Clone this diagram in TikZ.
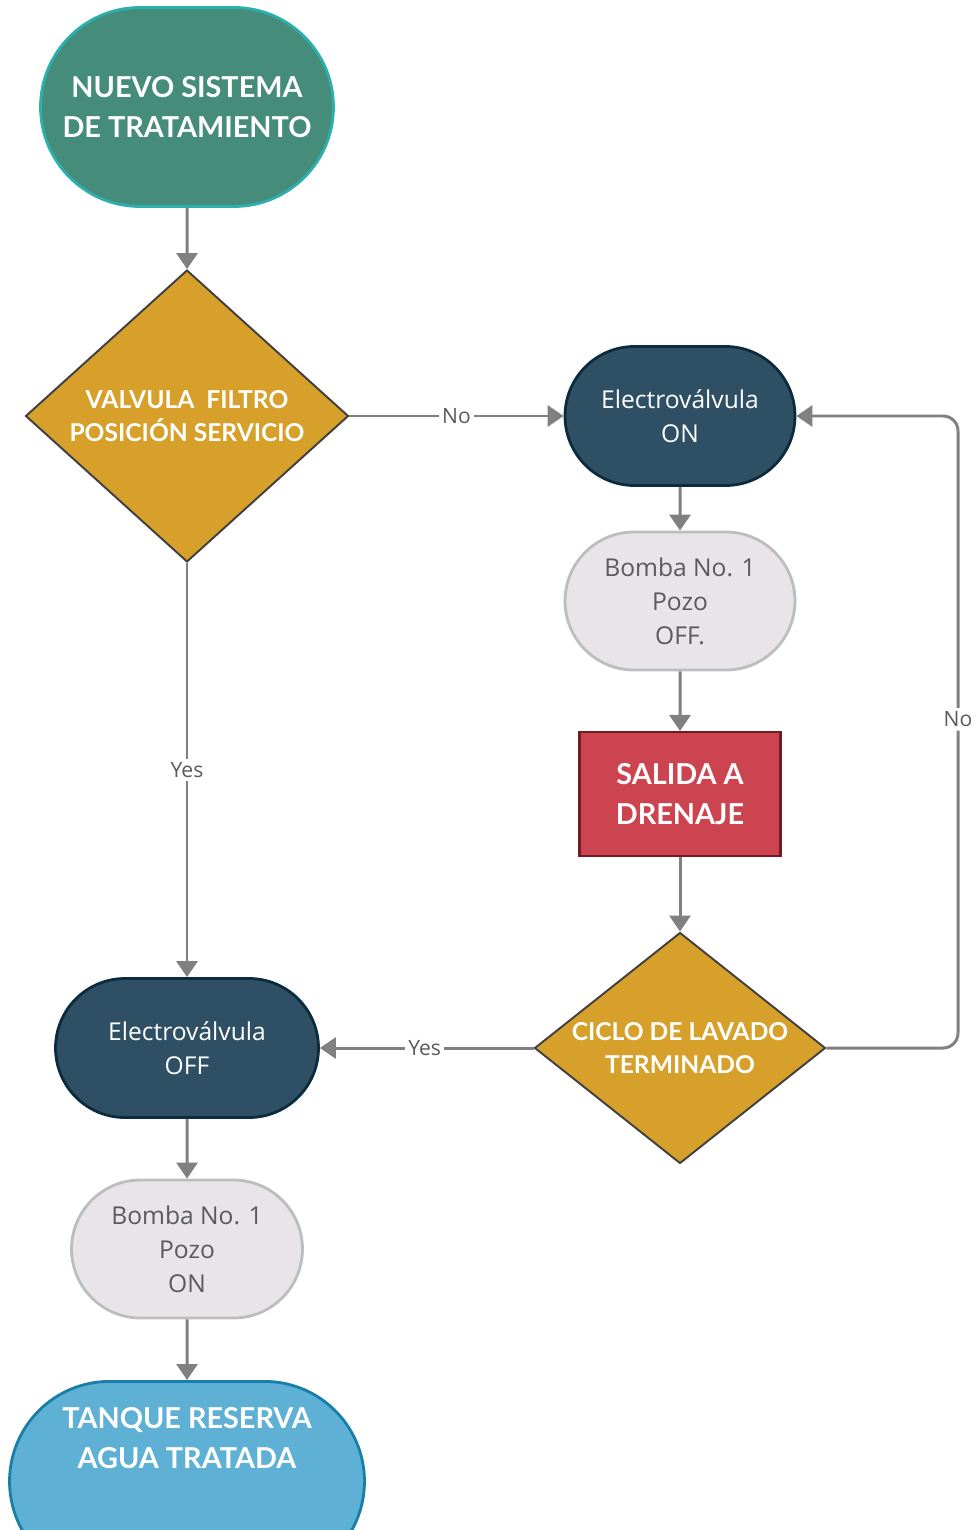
\documentclass[tikz,border=0pt]{standalone}
\usepackage{fontspec}
\setmainfont{Open Sans}
\newfontfamily\latofont{Lato}
\usetikzlibrary{shapes.geometric,shapes.misc,arrows.meta}

\definecolor{verdeini}{HTML}{458C7A}
\definecolor{verdeborde}{HTML}{2CB0AE}
\definecolor{ocre}{HTML}{D6A02A}
\definecolor{azulosc}{HTML}{2F5064}
\definecolor{azulborde}{HTML}{0D2B3E}
\definecolor{grisclaro}{HTML}{E8E4E8}
\definecolor{grisborde}{HTML}{BDBDBD}
\definecolor{gristexto}{HTML}{5A5A5A}
\definecolor{rojo}{HTML}{CC4450}
\definecolor{rojoborde}{HTML}{751A22}
\definecolor{celeste}{HTML}{5EB0D5}
\definecolor{celesteborde}{HTML}{1A7FA6}
\definecolor{flecha}{HTML}{808080}

\begin{document}
\begin{tikzpicture}[
    % 1 unidad = 1 pixel de la imagen original
    x=0.02cm, y=-0.02cm,
    % Textos
    titulo/.style={font=\latofont\bfseries\fontsize{16.4}{22.8}\selectfont, text=white, align=center},
    normal/.style={font=\fontsize{14}{19.4}\selectfont, align=center},
    % Formas
    terminal/.style={rounded rectangle, draw, line width=1.6pt, inner sep=0pt},
    decision/.style={diamond, draw=black!75, line width=1.1pt, fill=ocre, inner sep=-12pt,
        font=\latofont\bfseries\fontsize{14}{18.8}\selectfont, text=white, align=center},
    % Conectores y etiquetas
    conn/.style={draw=flecha, line width=1.7pt, -{Triangle[length=0.32cm,width=0.42cm]}},
    lbl/.style={fill=white, text=gristexto, inner sep=2pt, font=\fontsize{12}{14}\selectfont}
]
    \useasboundingbox (0,0) rectangle (976,1530);
    \clip (0,0) rectangle (976,1530);

    % Inicio
    \node[terminal, titulo, draw=verdeborde, fill=verdeini,
        minimum width=5.86cm, minimum height=3.98cm] (inicio) at (187,107)
        {NUEVO SISTEMA\\DE TRATAMIENTO};

    % Decisiones
    \node[decision, minimum width=6.46cm, minimum height=5.84cm] (valvula) at (187,416)
        {VALVULA\ \ FILTRO\\POSICIÓN SERVICIO};
    \node[decision, minimum width=5.82cm, minimum height=4.62cm] (ciclo) at (680,1048)
        {CICLO DE LAVADO\\TERMINADO};

    % Rama derecha
    \node[terminal, normal, draw=azulborde, fill=azulosc, text=white,
        minimum width=4.6cm, minimum height=2.78cm] (evon) at (680,416)
        {Electroválvula\\ON};
    \node[terminal, normal, draw=grisborde, fill=grisclaro, text=gristexto,
        minimum width=4.6cm, minimum height=2.76cm] (bombaoff) at (680,601)
        {Bomba No. 1\\Pozo\\OFF.};
    \node[rectangle, titulo, draw=rojoborde, fill=rojo, line width=1.2pt,
        minimum width=4.02cm, minimum height=2.48cm] (drenaje) at (680,794)
        {SALIDA A\\DRENAJE};

    % Rama izquierda
    \node[terminal, normal, draw=azulborde, fill=azulosc, text=white,
        minimum width=5.26cm, minimum height=2.78cm] (evoff) at (187,1048)
        {Electroválvula\\OFF};
    \node[terminal, normal, draw=grisborde, fill=grisclaro, text=gristexto,
        minimum width=4.62cm, minimum height=2.76cm] (bombaon) at (187,1249)
        {Bomba No. 1\\Pozo\\ON};
    \node[terminal, titulo, draw=celesteborde, fill=celeste, anchor=north, text depth=1.75cm,
        minimum width=7.1cm, minimum height=4cm] (tanque) at (187,1380)
        {TANQUE RESERVA\\AGUA TRATADA};

    % Conectores
    \coordinate (retorno) at (958,0);
    \draw[conn] (inicio) -- (valvula);
    \draw[conn] (valvula.east) -- node[lbl]{No} (evon.west);
    \draw[conn] (valvula.south) -- node[lbl]{Yes} (evoff.north);
    \draw[conn] (evon) -- (bombaoff);
    \draw[conn] (bombaoff) -- (drenaje);
    \draw[conn] (drenaje) -- (ciclo);
    \draw[conn] (ciclo.west) -- node[lbl, pos=0.51]{Yes} (evoff.east);
    \draw[conn, rounded corners=0.3cm] (ciclo.east) -- (ciclo.east -| retorno)
        -- node[lbl, pos=0.52]{No} (evon.east -| retorno) -- (evon.east);
    \draw[conn] (evoff) -- (bombaon);
    \draw[conn] (bombaon) -- (tanque);

\end{tikzpicture}
\end{document}
